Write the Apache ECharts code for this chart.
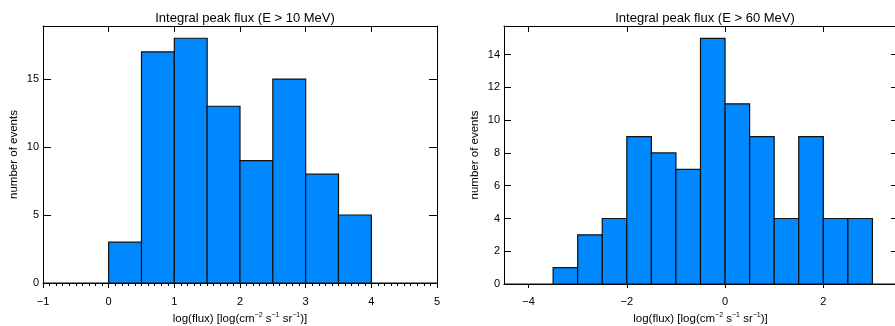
<!DOCTYPE html>
<html>
<head>
<meta charset="utf-8">
<script src="https://cdn.jsdelivr.net/npm/echarts@6/dist/echarts.min.js"></script>
<style>
  html, body { margin: 0; padding: 0; background: #fff; }
  #chart { width: 895px; height: 326px; }
</style>
</head>
<body>
<div id="chart"></div>
<script>
// histogram bins: left edge, right edge, number of events
var binLo10 = [-1, -0.5, 0, 0.5, 1, 1.5, 2, 2.5, 3, 3.5, 4, 4.5];
var binHi10 = [-0.5, 0, 0.5, 1, 1.5, 2, 2.5, 3, 3.5, 4, 4.5, 5];
var count10 = [0, 0, 3, 17, 18, 13, 9, 15, 8, 5, 0, 0];

var binLo60 = [-4.5, -4, -3.5, -3, -2.5, -2, -1.5, -1, -0.5, 0, 0.5, 1, 1.5, 2, 2.5, 3];
var binHi60 = [-4, -3.5, -3, -2.5, -2, -1.5, -1, -0.5, 0, 0.5, 1, 1.5, 2, 2.5, 3, 3.5];
var count60 = [0, 0, 1, 3, 4, 9, 8, 7, 15, 11, 9, 4, 9, 4, 4, 0];

var xTicks60 = [-4, -2, 0, 2];

var titles = ['Integral peak flux (E > 10 MeV)', 'Integral peak flux (E > 60 MeV)'];

var FONT = '"Liberation Sans", Arial, sans-serif';
var BAR = '#0088ff';

function zip(lo, hi, c) {
    var out = [];
    for (var i = 0; i < c.length; i++) out.push([lo[i], hi[i], c[i]]);
    return out;
}

function renderBin(params, api) {
    var p0 = api.coord([api.value(0), api.value(2)]);
    var p1 = api.coord([api.value(1), 0]);
    return {
        type: 'rect',
        shape: { x: p0[0], y: p0[1], width: p1[0] - p0[0], height: p1[1] - p0[1] },
        style: { fill: BAR, stroke: '#111', lineWidth: 1.2 }
    };
}

function minusFmt(v) { return v < 0 ? '−' + (-v) : '' + v; }

var xName = '{t|log(flux) [log(cm}{s|−2}{t| s}{s|−1}{t| sr}{s|−1}{t|)]}';
var xNameStyle = {
    fontFamily: FONT, color: '#000',
    rich: {
        t: { fontFamily: FONT, fontSize: 11.5, color: '#000', verticalAlign: 'bottom', lineHeight: 13 },
        s: { fontFamily: FONT, fontSize: 7, color: '#000', verticalAlign: 'top', lineHeight: 13, padding: [0, 0, 5, 0] }
    }
};
var yNameStyle = { fontFamily: FONT, fontSize: 11.5, color: '#000' };

var lineStyle = { color: '#000', width: 1 };
var axisLineOpt = { show: true, onZero: false, lineStyle: lineStyle };

var chart = echarts.init(document.getElementById('chart'), null, { renderer: 'canvas' });

var option = {
    animation: false,
    backgroundColor: '#fff',
    title: [
        { text: titles[0], left: 240, top: 7, textAlign: 'center',
          textStyle: { fontFamily: FONT, fontSize: 13, fontWeight: 'normal', color: '#000' } },
        { text: titles[1], left: 700, top: 7, textAlign: 'center',
          textStyle: { fontFamily: FONT, fontSize: 13, fontWeight: 'normal', color: '#000' } }
    ],
    grid: [
        { left: 43, right: 458, top: 26, bottom: 43, outerBoundsMode: 'none' },
        { left: 504, right: -2, top: 26, bottom: 42, outerBoundsMode: 'none' }
    ],
    xAxis: [
        // left chart bottom
        { type: 'value', gridIndex: 0, position: 'bottom', min: -1, max: 5, interval: 1,
          name: xName, nameLocation: 'middle', nameGap: 23, nameTextStyle: xNameStyle,
          axisLine: axisLineOpt,
          axisTick: { show: true, inside: false, length: 5, lineStyle: lineStyle },
          minorTick: { show: true, splitNumber: 10, length: 3, lineStyle: lineStyle },
          axisLabel: { fontFamily: FONT, fontSize: 11, color: '#000', margin: 13, formatter: minusFmt },
          splitLine: { show: false } },
        // left chart top
        { type: 'value', gridIndex: 0, position: 'top', min: -1, max: 5, interval: 1,
          axisLine: axisLineOpt,
          axisTick: { show: true, inside: true, length: 6, lineStyle: lineStyle },
          axisLabel: { show: false }, splitLine: { show: false } },
        // right chart bottom
        { type: 'value', gridIndex: 1, position: 'bottom', min: -4.5, max: 3.5,
          name: xName, nameLocation: 'middle', nameGap: 22, nameTextStyle: xNameStyle,
          axisLine: axisLineOpt,
          axisTick: { show: true, inside: false, length: 4, lineStyle: lineStyle, customValues: xTicks60 },
          axisLabel: { fontFamily: FONT, fontSize: 11, color: '#000', margin: 12, customValues: xTicks60, formatter: minusFmt },
          splitLine: { show: false } },
        // right chart top
        { type: 'value', gridIndex: 1, position: 'top', min: -4.5, max: 3.5,
          axisLine: axisLineOpt,
          axisTick: { show: true, inside: true, length: 6, lineStyle: lineStyle, customValues: xTicks60 },
          axisLabel: { show: false }, splitLine: { show: false } }
    ],
    yAxis: [
        { type: 'value', gridIndex: 0, position: 'left', min: 0, max: 18.9, interval: 5,
          name: 'number of events', nameLocation: 'middle', nameGap: 23, nameRotate: 90,
          nameTextStyle: yNameStyle,
          axisLine: axisLineOpt,
          axisTick: { show: true, inside: true, length: 8, lineStyle: lineStyle },
          axisLabel: { fontFamily: FONT, fontSize: 11, color: '#000', margin: 4, showMaxLabel: false },
          splitLine: { show: false } },
        { type: 'value', gridIndex: 0, position: 'right', min: 0, max: 18.9, interval: 5,
          axisLine: axisLineOpt,
          axisTick: { show: true, inside: true, length: 8, lineStyle: lineStyle },
          axisLabel: { show: false }, splitLine: { show: false } },
        { type: 'value', gridIndex: 1, position: 'left', min: 0, max: 15.75, interval: 2,
          name: 'number of events', nameLocation: 'middle', nameGap: 23, nameRotate: 90,
          nameTextStyle: yNameStyle,
          axisLine: axisLineOpt,
          axisTick: { show: true, inside: true, length: 7, lineStyle: lineStyle },
          axisLabel: { fontFamily: FONT, fontSize: 11, color: '#000', margin: 4, showMaxLabel: false },
          splitLine: { show: false } },
        { type: 'value', gridIndex: 1, position: 'right', min: 0, max: 15.75, interval: 2,
          axisLine: axisLineOpt,
          axisTick: { show: true, inside: true, length: 6, lineStyle: lineStyle },
          axisLabel: { show: false }, splitLine: { show: false } }
    ],
    series: [
        { type: 'custom', xAxisIndex: 0, yAxisIndex: 0, renderItem: renderBin,
          encode: { x: [0, 1], y: 2 }, data: zip(binLo10, binHi10, count10), z: 1 },
        { type: 'custom', xAxisIndex: 2, yAxisIndex: 2, renderItem: renderBin,
          encode: { x: [0, 1], y: 2 }, data: zip(binLo60, binHi60, count60), z: 1 }
    ]
};

option && chart.setOption(option);
</script>
</body>
</html>
